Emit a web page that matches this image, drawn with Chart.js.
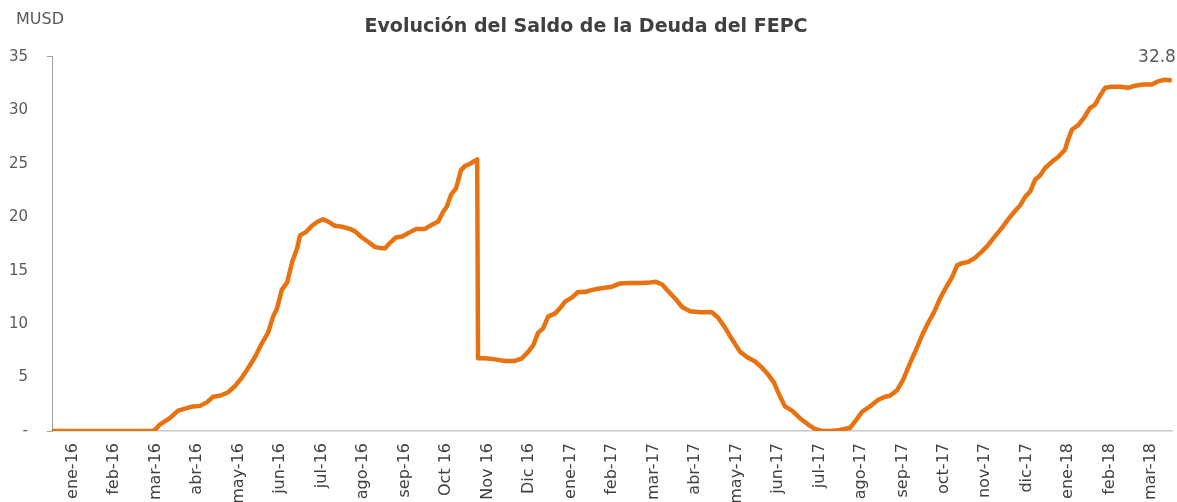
<!DOCTYPE html>
<html>
<head>
<meta charset="utf-8">
<script src="https://cdn.jsdelivr.net/npm/chart.js@4.4.1/dist/chart.umd.min.js"></script>
<style>
  html, body { margin: 0; padding: 0; background: #fff; overflow: hidden; }
  #wrap { width: 1177px; height: 502px; position: relative; }
</style>
</head>
<body>
<div id="wrap"><canvas id="c" width="1177" height="502"></canvas></div>
<script>
// Month labels (one per month band on the x axis)
const monthLabels = ["ene-16","feb-16","mar-16","abr-16","may-16","jun-16","jul-16","ago-16","sep-16","Oct 16","Nov 16","Dic 16",
  "ene-17","feb-17","mar-17","abr-17","may-17","jun-17","jul-17","ago-17","sep-17","oct-17","nov-17","dic-17",
  "ene-18","feb-18","mar-18"];

// Time position in months since start of ene-16
const timeMonths = [0,2.41,2.48,2.60,2.72,2.84,3.04,3.21,3.40,3.57,3.74,3.88,4.05,4.24,4.41,4.58,4.73,4.89,5.06,5.21,5.33,5.42,5.54,5.67,5.79,5.91,5.98,
  6.12,6.27,6.41,6.53,6.65,6.82,6.99,7.18,7.30,7.47,7.62,7.79,7.96,8.03,8.15,8.29,8.44,8.63,8.78,8.99,9.16,9.31,9.43,9.52,9.62,9.74,9.86,9.96,10.08,10.25,
  10.27,10.44,10.68,10.92,11.16,11.33,11.48,11.60,11.72,11.84,11.96,12.13,12.25,12.37,12.54,12.68,12.85,13.02,13.16,13.33,13.50,13.69,13.93,14.18,14.42,14.56,
  14.71,14.85,15.02,15.19,15.38,15.62,15.91,16.06,16.22,16.39,16.59,16.76,16.95,17.12,17.26,17.41,17.53,17.67,17.84,18.03,18.23,18.39,18.56,18.76,19.00,19.24,
  19.38,19.53,19.72,19.91,20.08,20.20,20.37,20.52,20.68,20.83,20.97,21.12,21.26,21.41,21.55,21.70,21.82,21.94,22.08,22.25,22.42,22.57,22.73,22.90,23.05,23.22,
  23.34,23.46,23.58,23.70,23.82,23.94,24.11,24.25,24.42,24.49,24.59,24.74,24.88,25.02,25.14,25.27,25.39,25.55,25.75,25.94,26.11,26.30,26.51,26.66,26.83,26.95];

// Debt balance, MUSD
const debtMUSD = [0,0,0.1,0.6,0.9,1.2,1.9,2.1,2.3,2.35,2.7,3.2,3.3,3.6,4.2,5.0,5.9,6.9,8.2,9.2,10.7,11.4,13.2,13.9,15.8,17.1,18.3,
  18.6,19.2,19.6,19.8,19.6,19.2,19.1,18.9,18.7,18.1,17.7,17.2,17.1,17.1,17.6,18.1,18.2,18.6,18.9,18.9,19.3,19.6,20.5,21.0,22.1,22.7,24.4,24.8,25.0,25.4,
  6.8,6.8,6.7,6.55,6.55,6.8,7.4,8.0,9.2,9.6,10.7,11.0,11.5,12.1,12.5,13.0,13.0,13.2,13.3,13.4,13.5,13.8,13.85,13.85,13.9,13.95,
  13.7,13.1,12.4,11.6,11.2,11.1,11.1,10.6,9.7,8.6,7.4,6.9,6.5,5.9,5.3,4.5,3.4,2.3,1.9,1.2,0.6,0.2,0,0,0.1,0.3,
  1.0,1.8,2.3,2.9,3.2,3.3,3.8,4.8,6.3,7.6,8.9,10.1,11.1,12.4,13.4,14.4,15.5,15.7,15.8,16.2,16.8,17.4,18.2,19.0,19.8,20.6,
  21.1,21.9,22.4,23.5,23.9,24.6,25.2,25.6,26.3,27.2,28.2,28.6,29.3,30.2,30.5,31.4,32.1,32.2,32.2,32.1,32.3,32.4,32.4,32.7,32.85,32.8];

const yTickValues = [0,5,10,15,20,25,30,35];
const lastValueLabel = "32.8";

const points = timeMonths.map((t, i) => ({x: t, y: debtMUSD[i]}));

const extraText = {
  id: 'extraText',
  afterDraw(chart) {
    const ctx = chart.ctx;
    ctx.save();
    ctx.fillStyle = '#595959';
    ctx.font = '16px "DejaVu Sans"';
    ctx.textBaseline = 'middle';
    ctx.textAlign = 'left';
    ctx.fillText('MUSD', 16, 20);
    const meta = chart.getDatasetMeta(0);
    const last = meta.data[meta.data.length - 1];
    ctx.font = '17px "DejaVu Sans"';
    ctx.textAlign = 'right';
    ctx.fillText(lastValueLabel, last.x + 6, last.y - 23);
    ctx.restore();
  }
};

new Chart(document.getElementById('c'), {
  type: 'line',
  data: {
    datasets: [{
      data: points,
      borderColor: '#E8720F',
      borderWidth: 4.5,
      pointRadius: 0,
      tension: 0,
      fill: false,
      borderJoinStyle: 'round',
      borderCapStyle: 'round'
    }]
  },
  options: {
    responsive: false,
    animation: false,
    layout: { padding: { left: 0, right: 5, top: 0, bottom: 0 } },
    plugins: {
      legend: { display: false },
      tooltip: { enabled: false },
      title: {
        display: true,
        text: 'Evolución del Saldo de la Deuda del FEPC',
        color: '#404040',
        font: { family: '"DejaVu Sans"', size: 19, weight: 'bold' },
        padding: { top: 16, bottom: 18 }
      }
    },
    scales: {
      x: {
        type: 'linear',
        min: 0,
        max: monthLabels.length,
        afterBuildTicks: (scale) => {
          scale.ticks = monthLabels.map((_, i) => ({ value: i + 0.5 }));
        },
        afterFit: (scale) => { scale.height = 71; },
        ticks: {
          autoSkip: false,
          minRotation: 90,
          maxRotation: 90,
          padding: 4,
          color: '#404040',
          font: { family: '"DejaVu Sans"', size: 16 },
          callback: (v) => monthLabels[Math.floor(v)]
        },
        grid: { display: false },
        border: { display: true, color: '#C8C8C8', width: 1.5 }
      },
      y: {
        min: 0,
        max: 35,
        afterBuildTicks: (scale) => {
          scale.ticks = yTickValues.map(v => ({ value: v }));
        },
        afterFit: (scale) => { scale.width = 52; },
        ticks: {
          padding: 19,
          color: '#595959',
          font: { family: '"DejaVu Sans"', size: 15 },
          callback: (v) => v === 0 ? '-' : String(v)
        },
        grid: {
          display: true,
          drawOnChartArea: false,
          drawTicks: true,
          tickLength: 5,
          tickColor: (ctx) => (ctx.tick && (ctx.tick.value === 35 || ctx.tick.value === 0)) ? '#A0A0A0' : 'rgba(0,0,0,0)'
        },
        border: { display: true, color: '#A0A0A0', width: 1 }
      }
    }
  },
  plugins: [extraText]
});
</script>
</body>
</html>
